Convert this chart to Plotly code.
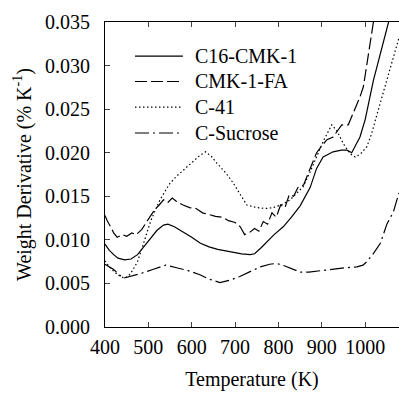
import plotly.graph_objects as go

# ---- data ----
t_c16 = [400, 410, 420, 430, 445, 460, 475, 490, 505, 520, 535, 545, 560, 580, 600, 620, 640, 660, 680, 696, 715, 735, 745, 760, 773, 790, 811, 830, 850, 873, 888, 903, 926, 945, 958, 969, 988, 1000, 1019, 1038, 1054]
y_c16 = [0.0095, 0.0088, 0.0083, 0.0079, 0.0077, 0.0078, 0.0083, 0.0092, 0.0102, 0.0111, 0.0117, 0.0118, 0.0115, 0.0109, 0.0103, 0.0096, 0.0092, 0.0089, 0.0087, 0.0086, 0.0084, 0.0083, 0.0084, 0.0091, 0.0098, 0.0106, 0.0115, 0.0126, 0.0139, 0.0160, 0.0182, 0.0195, 0.0201, 0.0203, 0.0203, 0.0200, 0.0218, 0.0238, 0.0283, 0.0318, 0.0350]

t_fa = [400, 405, 412, 420, 428, 440, 450, 462, 472, 485, 495, 505, 515, 525, 535, 545, 555, 565, 580, 595, 610, 625, 640, 655, 670, 685, 700, 712, 722, 732, 745, 755, 765, 775, 785, 795, 805, 815, 825, 835, 845, 858, 870, 888, 900, 912, 926, 935, 946, 961, 969, 988, 996, 1007, 1019]
y_fa = [0.0128, 0.0122, 0.0116, 0.0108, 0.0103, 0.0106, 0.0104, 0.0108, 0.0106, 0.0112, 0.0120, 0.0127, 0.0135, 0.0140, 0.0146, 0.0143, 0.0148, 0.0144, 0.0140, 0.0137, 0.0136, 0.0131, 0.0129, 0.0127, 0.0126, 0.0122, 0.0120, 0.0115, 0.0106, 0.0108, 0.0113, 0.0110, 0.0121, 0.0118, 0.0131, 0.0126, 0.0140, 0.0137, 0.0152, 0.0150, 0.0160, 0.0163, 0.0178, 0.0200, 0.0208, 0.0215, 0.0218, 0.0225, 0.0232, 0.0232, 0.0241, 0.0264, 0.0276, 0.0314, 0.0350]

t_c41 = [400, 410, 420, 432, 445, 455, 465, 475, 485, 495, 505, 515, 527, 540, 550, 565, 581, 600, 619, 632, 645, 658, 680, 696, 715, 727, 750, 770, 788, 810, 827, 857, 873, 890, 905, 923, 935, 950, 965, 977, 990, 1004, 1015, 1025, 1035, 1050, 1065, 1078]
y_c41 = [0.0076, 0.0069, 0.0064, 0.0059, 0.0056, 0.0059, 0.0066, 0.0075, 0.0090, 0.0106, 0.0121, 0.0133, 0.0146, 0.0157, 0.0165, 0.0173, 0.0180, 0.0189, 0.0197, 0.0201, 0.0196, 0.0188, 0.0176, 0.0165, 0.0150, 0.0140, 0.0137, 0.0136, 0.0137, 0.0141, 0.0146, 0.0161, 0.0178, 0.0197, 0.0215, 0.0232, 0.0225, 0.0210, 0.0199, 0.0195, 0.0199, 0.0207, 0.0222, 0.0240, 0.0257, 0.0285, 0.0310, 0.0332]

t_suc = [400, 420, 442, 460, 480, 510, 540, 565, 590, 619, 640, 665, 690, 711, 735, 758, 780, 796, 815, 835, 850, 870, 900, 927, 955, 981, 995, 1004, 1020, 1035, 1050, 1065, 1078]
y_suc = [0.0072, 0.0066, 0.0056, 0.0058, 0.0061, 0.0066, 0.0071, 0.0068, 0.0065, 0.0060, 0.0055, 0.0051, 0.0054, 0.0058, 0.0064, 0.0069, 0.0072, 0.0073, 0.0070, 0.0066, 0.0063, 0.0063, 0.0065, 0.0067, 0.0068, 0.0069, 0.0071, 0.0075, 0.0085, 0.0096, 0.0118, 0.0132, 0.0154]

names = ["C16-CMK-1", "CMK-1-FA", "C-41", "C-Sucrose"]
x_ticks = [400, 500, 600, 700, 800, 900, 1000]

FONT = "Liberation Serif"
FS = 20
dashes = ["solid", "12px,4px", "1.5px,2.5px", "14px,4px,2px,4px"]
series = [(t_c16, y_c16), (t_fa, y_fa), (t_c41, y_c41), (t_suc, y_suc)]

fig = go.Figure()
for (t, y), n, d in zip(series, names, dashes):
    fig.add_trace(go.Scatter(x=t, y=y, name=n, mode="lines", showlegend=False,
                             line=dict(color="black", width=1.2, dash=d)))

# hand-placed legend (paper coordinates)
leg_rows = [0.888, 0.805, 0.721, 0.636]
for n, d, ry in zip(names, dashes, leg_rows):
    fig.add_shape(type="line", xref="paper", yref="paper", x0=0.102, x1=0.265,
                  y0=ry, y1=ry, line=dict(color="black", width=1.2, dash=d))
    fig.add_annotation(xref="paper", yref="paper", x=0.300, y=ry, text=n,
                       showarrow=False, xanchor="left", yanchor="middle",
                       font=dict(family=FONT, size=FS, color="black"))

fig.update_layout(
    width=399, height=394,
    margin=dict(l=105, r=0, t=22, b=67),
    paper_bgcolor="white", plot_bgcolor="white",
    font=dict(family=FONT, size=FS, color="black"),
    showlegend=False,
    xaxis=dict(range=[400, 1078], tickvals=x_ticks, ticks="inside", ticklen=5,
               showline=True, linecolor="black", linewidth=1, mirror="ticks",
               showgrid=False, zeroline=False, ticklabelstandoff=2,
               tickfont=dict(family=FONT, size=FS),
               title=dict(text="Temperature (K)", standoff=14,
                          font=dict(family=FONT, size=FS))),
    yaxis=dict(range=[0, 0.035], dtick=0.005, tickformat=".3f", ticks="inside",
               ticklen=5, showline=True, linecolor="black", linewidth=1,
               showgrid=False, zeroline=False, ticklabelstandoff=10,
               tickfont=dict(family=FONT, size=FS),
               title=dict(text="Weight Derivative (% K<sup>-1</sup>)", standoff=8,
                          font=dict(family=FONT, size=FS))),
)

fig.write_html("out.html")
